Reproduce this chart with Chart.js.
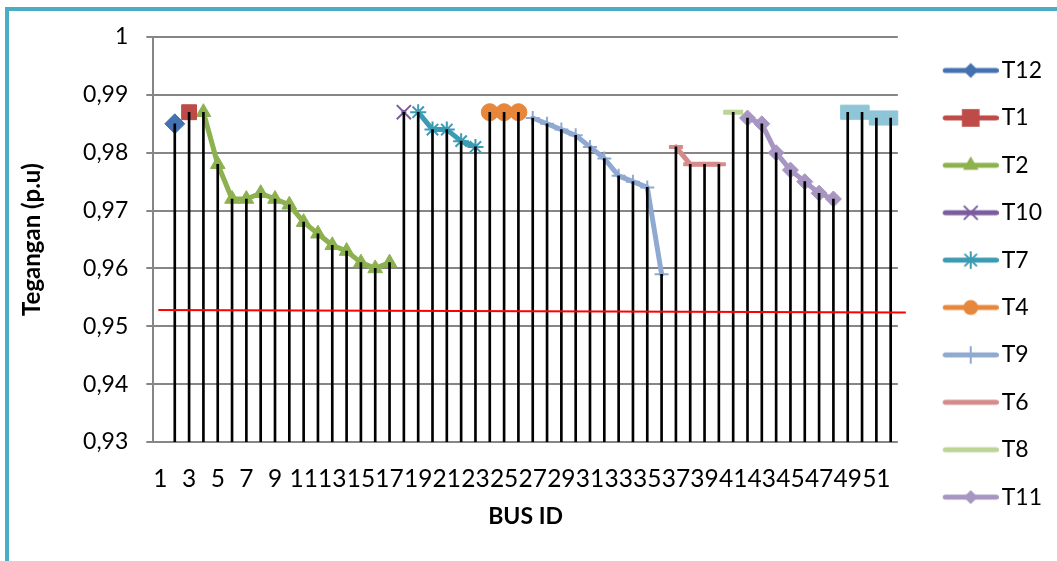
<!DOCTYPE html>
<html>
<head>
<meta charset="utf-8">
<script src="https://cdn.jsdelivr.net/npm/chart.js@4.4.1/dist/chart.umd.min.js"></script>
<style>
  html, body { margin: 0; padding: 0; background: #ffffff; }
  #wrap { position: relative; width: 1057px; height: 561px; overflow: hidden; background: #ffffff; }
  #frame { position: absolute; left: 5px; top: 7px; width: 1200px; height: 700px;
           border-left: 4px solid #4BACC6; border-top: 4px solid #4BACC6; }
  #chart { position: absolute; left: 0; top: 0; display: block; }
</style>
</head>
<body>
<div id="wrap">
  <div id="frame"></div>
  <canvas id="chart" width="1057" height="561"></canvas>
</div>
<script>
// Bus numbers on the category axis
const busIds = ['1','2','3','4','5','6','7','8','9','10','11','12','13','14','15','16','17','18','19','20',
  '21','22','23','24','25','26','27','28','29','30','31','32','33','34','35','36','37','38','39','40',
  '41','42','43','44','45','46','47','48','49','50','51','52'];

// Voltage (p.u) per transformer feeder, with the buses each one supplies
const t12Bus = ['2'];
const t12Values = [0.985];
const t1Bus = ['3'];
const t1Values = [0.987];
const t2Bus = ['4','5','6','7','8','9','10','11','12','13','14','15','16','17'];
const t2Values = [0.987, 0.978, 0.972, 0.972, 0.973, 0.972, 0.971, 0.968, 0.966, 0.964, 0.963, 0.961, 0.960, 0.961];
const t10Bus = ['18'];
const t10Values = [0.987];
const t7Bus = ['19','20','21','22','23'];
const t7Values = [0.987, 0.984, 0.984, 0.982, 0.981];
const t4Bus = ['24','25','26'];
const t4Values = [0.987, 0.987, 0.987];
const t9Bus = ['27','28','29','30','31','32','33','34','35','36'];
const t9Values = [0.986, 0.985, 0.984, 0.983, 0.981, 0.979, 0.976, 0.975, 0.974, 0.959];
const t6Bus = ['37','38','39','40'];
const t6Values = [0.981, 0.978, 0.978, 0.978];
const t8Bus = ['41'];
const t8Values = [0.987];
const t11Bus = ['42','43','44','45','46','47','48'];
const t11Values = [0.986, 0.985, 0.980, 0.977, 0.975, 0.973, 0.972];
const t3Bus = ['49','50','51','52'];
const t3Values = [0.987, 0.987, 0.986, 0.986];

// Lower voltage limit line (drawn slightly sloped, left end to right end)
const limitLine = [0.9528, 0.9524];

// Y axis tick labels (decimal comma)
const yTickValues = [0.93, 0.94, 0.95, 0.96, 0.97, 0.98, 0.99, 1];
const yTickLabels = ['0,93', '0,94', '0,95', '0,96', '0,97', '0,98', '0,99', '1'];

// Expand a feeder's bus list into a full-length array for the category axis
function spread(buses, values) {
  const out = busIds.map(() => null);
  buses.forEach((b, i) => { out[busIds.indexOf(b)] = values[i]; });
  return out;
}

const seriesDefs = [
  { label: 'T12', buses: t12Bus, values: t12Values, color: '#4472B0', style: 'rectRot', r: 10, bw: 1, lr: 7.5 },
  { label: 'T1',  buses: t1Bus,  values: t1Values,  color: '#BE4B48', style: 'rect', r: 10.5, bw: 1, lr: 12.5 },
  { label: 'T2',  buses: t2Bus,  values: t2Values,  color: '#8DB14F', style: 'triangle', r: 8.5, bw: 1, lr: 9 },
  { label: 'T10', buses: t10Bus, values: t10Values, color: '#7B5C9E', style: 'crossRot', r: 10, bw: 2, lr: 9 },
  { label: 'T7',  buses: t7Bus,  values: t7Values,  color: '#3C9BB4', style: 'star', r: 8, bw: 2, lr: 8 },
  { label: 'T4',  buses: t4Bus,  values: t4Values,  color: '#E7873C', style: 'circle', r: 8.5, bw: 1, lr: 7.5 },
  { label: 'T9',  buses: t9Bus,  values: t9Values,  color: '#8FA9D2', style: 'cross', r: 7, bw: 2, lr: 8 },
  { label: 'T6',  buses: t6Bus,  values: t6Values,  color: '#D58B89', style: 'line', r: 7, bw: 4, lr: 0 },
  { label: 'T8',  buses: t8Bus,  values: t8Values,  color: '#BCD597', style: 'line', r: 10, bw: 5, lr: 0 },
  { label: 'T11', buses: t11Bus, values: t11Values, color: '#A796C2', style: 'rectRot', r: 8, bw: 1, lr: 7 },
  { label: 'T3',  buses: t3Bus,  values: t3Values,  color: '#8EC5D7', style: 'rect', r: 10, bw: 1, lr: 0, noLegend: true }
];

// One value per bus for the vertical drop lines
const dropValues = busIds.map(() => null);
seriesDefs.forEach(s => s.buses.forEach((b, i) => { dropValues[busIds.indexOf(b)] = s.values[i]; }));

// Small marker painter for the legend swatches
function paintMarker(ctx, style, x, y, r) {
  ctx.beginPath();
  switch (style) {
    case 'rectRot':
      ctx.moveTo(x, y - r); ctx.lineTo(x + r, y); ctx.lineTo(x, y + r); ctx.lineTo(x - r, y); ctx.closePath();
      ctx.fill(); break;
    case 'rect': {
      const h = r * Math.SQRT1_2;
      ctx.rect(x - h, y - h, 2 * h, 2 * h); ctx.fill(); break;
    }
    case 'triangle': {
      ctx.moveTo(x, y - r);
      ctx.lineTo(x + r * Math.sin(2 * Math.PI / 3), y - r * Math.cos(2 * Math.PI / 3));
      ctx.lineTo(x + r * Math.sin(4 * Math.PI / 3), y - r * Math.cos(4 * Math.PI / 3));
      ctx.closePath(); ctx.fill(); break;
    }
    case 'circle':
      ctx.arc(x, y, r, 0, Math.PI * 2); ctx.fill(); break;
    case 'crossRot': {
      const d = r * Math.SQRT1_2;
      ctx.lineWidth = 2;
      ctx.moveTo(x - d, y - d); ctx.lineTo(x + d, y + d);
      ctx.moveTo(x + d, y - d); ctx.lineTo(x - d, y + d); ctx.stroke(); break;
    }
    case 'star': {
      const d = r * Math.SQRT1_2;
      ctx.lineWidth = 2;
      ctx.moveTo(x - d, y - d); ctx.lineTo(x + d, y + d);
      ctx.moveTo(x + d, y - d); ctx.lineTo(x - d, y + d);
      ctx.moveTo(x, y - r); ctx.lineTo(x, y + r); ctx.stroke(); break;
    }
    case 'cross':
      ctx.lineWidth = 2;
      ctx.moveTo(x, y - r); ctx.lineTo(x, y + r); ctx.stroke(); break;
    default:
      break;
  }
}

// Legend rows: 46px tall with a 1.4px gap; swatch image is centred on the row text
const LEGEND_FONT = 23;
const LEGEND_ROW = 46;
const LEGEND_GAP = 1.4;
const SWATCH_W = 108;
const SWATCH_H = 30;
const SWATCH_LINE_Y = SWATCH_H / 2;

function makeSwatch(def) {
  const c = document.createElement('canvas');
  c.width = SWATCH_W; c.height = SWATCH_H;
  const ctx = c.getContext('2d');
  ctx.strokeStyle = def.color;
  ctx.fillStyle = def.color;
  ctx.lineWidth = 5;
  ctx.lineCap = 'round';
  ctx.beginPath();
  ctx.moveTo(54.5, SWATCH_LINE_Y); ctx.lineTo(105.5, SWATCH_LINE_Y); ctx.stroke();
  if (def.lr > 0) paintMarker(ctx, def.style, 80, SWATCH_LINE_Y, def.lr);
  return c;
}

const swatches = {};
seriesDefs.forEach(d => { swatches[d.label] = makeSwatch(d); });

const lineDatasets = seriesDefs.map(d => ({
  type: 'line',
  label: d.label,
  data: spread(d.buses, d.values),
  borderColor: d.color,
  backgroundColor: d.color,
  borderWidth: 5,
  borderJoinStyle: 'round',
  borderCapStyle: 'round',
  tension: 0,
  spanGaps: false,
  pointStyle: d.style,
  pointRadius: d.r,
  pointHoverRadius: d.r,
  pointBorderWidth: d.bw,
  pointBackgroundColor: d.color,
  pointBorderColor: d.color,
  order: 2,
  hideInLegend: !!d.noLegend
}));

const dropDataset = {
  type: 'bar',
  label: 'drop',
  data: dropValues,
  backgroundColor: '#000000',
  borderWidth: 0,
  barThickness: 2,
  order: 1,
  hideInLegend: true
};

// Limit line drawn across the plot through the y scale
const limitPlugin = {
  id: 'limitLine',
  afterDatasetsDraw(chart) {
    const { ctx, chartArea, scales } = chart;
    const y0 = scales.y.getPixelForValue(limitLine[0]);
    const y1 = scales.y.getPixelForValue(limitLine[1]);
    ctx.save();
    ctx.strokeStyle = '#FF0000';
    ctx.lineWidth = 2;
    ctx.beginPath();
    ctx.moveTo(chartArea.left + 5, y0);
    ctx.lineTo(chartArea.right + 8, y1);
    ctx.stroke();
    ctx.restore();
  }
};

Chart.defaults.font.family = 'Lato, "Open Sans", sans-serif';
Chart.defaults.color = '#000000';

new Chart(document.getElementById('chart'), {
  type: 'line',
  data: { labels: busIds, datasets: [dropDataset, ...lineDatasets] },
  options: {
    responsive: false,
    animation: false,
    devicePixelRatio: 1,
    layout: { padding: { left: 12, top: 37, right: 5, bottom: 7.4 } },
    plugins: {
      tooltip: { enabled: false },
      legend: {
        position: 'right',
        align: 'center',
        labels: {
          usePointStyle: true,
          pointStyleWidth: 91,
          padding: LEGEND_GAP,
          font: { size: LEGEND_FONT, lineHeight: LEGEND_ROW / LEGEND_FONT },
          color: '#000000',
          filter: (item, data) => !data.datasets[item.datasetIndex].hideInLegend,
          generateLabels(chart) {
            const items = Chart.defaults.plugins.legend.labels.generateLabels(chart);
            items.forEach(it => {
              const sw = swatches[it.text];
              if (sw) it.pointStyle = sw;
              it.text = [it.text];
            });
            return items;
          }
        }
      }
    },
    scales: {
      x: {
        type: 'category',
        offset: true,
        grid: { display: false },
        border: { display: false },
        ticks: {
          autoSkip: false,
          maxRotation: 0,
          minRotation: 0,
          padding: 14,
          font: { size: 24.5 },
          callback: function (value, index) { return index % 2 === 0 ? busIds[index] : ''; }
        },
        title: { display: true, text: 'BUS ID', font: { size: 23, weight: 'bold' }, padding: { top: 0, bottom: 22.8 } },
        afterFit(scale) { scale.height = 111.6; }
      },
      y: {
        min: 0.93,
        max: 1.0,
        grid: { color: '#868686', lineWidth: 2, tickLength: 7, drawTicks: true },
        border: { color: '#868686', width: 2 },
        ticks: {
          stepSize: 0.01,
          padding: 18,
          font: { size: 23 },
          callback: function (value) {
            const k = yTickValues.findIndex(v => Math.abs(v - value) < 1e-6);
            return k >= 0 ? yTickLabels[k] : '';
          }
        },
        title: { display: true, text: 'Tegangan (p.u)', font: { size: 24, weight: 'bold' }, padding: { top: 6, bottom: 0 } },
        afterFit(scale) { scale.width = 141.3; }
      }
    }
  },
  plugins: [limitPlugin]
});
</script>
</body>
</html>
